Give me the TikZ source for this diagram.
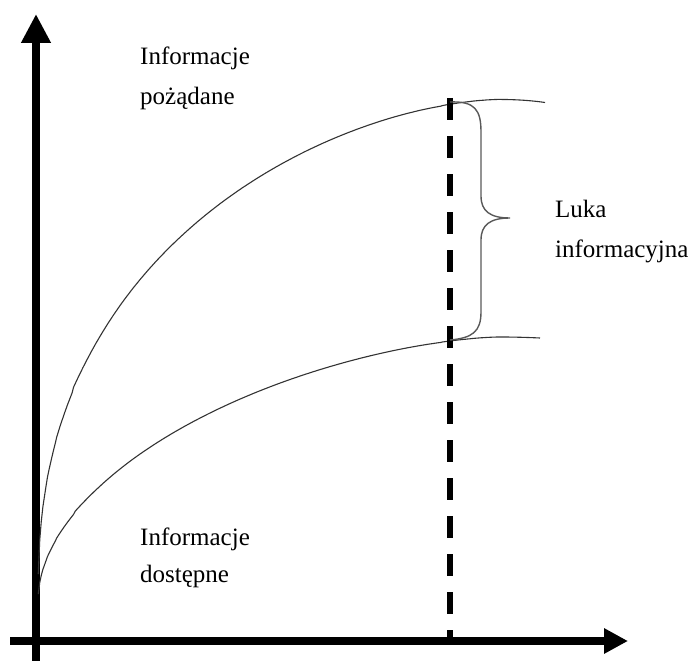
\documentclass[tikz,border=0pt]{standalone}
\usepackage{fontspec}
\setmainfont{Liberation Serif}
\usetikzlibrary{arrows.meta}
\begin{document}
\begin{tikzpicture}[x=1pt,y=-1pt,
  axis/.style={line width=8pt,draw=black},
  curve/.style={line width=1.1pt,draw=black!80},
  gapline/.style={line width=6pt,draw=black,dash pattern=on 21.5pt off 16.5pt},
  bracestyle/.style={line width=1.4pt,draw=black!65},
  lbl/.style={inner sep=0pt,anchor=base west,font=\fontsize{25}{30}\selectfont,text=black}]
\useasboundingbox (0,0) rectangle (694,661);
% axes
\coordinate (ybot) at (36,661);
\coordinate (ytop) at (36,14);
\coordinate (xleft) at (10,641);
\coordinate (xright) at (628,641);
\draw[axis,-{Triangle[length=29pt,width=28pt]}] (ybot) -- (ytop);
\draw[axis,-{Triangle[length=24pt,width=24pt]}] (xleft) -- (xright);
% curves
\coordinate (up) at (450,102);
\coordinate (lo) at (450,340);
\coordinate (upend) at (545,102.5);
\coordinate (loend) at (540,338);
\draw[curve] plot[domain=0.0005:0.999,samples=300,variable=\u]
  ({38+462*\u},{600-500.5*(1-(1-\u)^1.7)^0.42})
  .. controls (520,99.5) and (535,101) .. (upend);
\draw[curve] plot[domain=0.0005:0.999,samples=300,variable=\u]
  ({38+462*\u},{600-263*(1-(1-\u)^1.6)^0.53})
  .. controls (515,337) and (530,337.5) .. (loend);
% dashed line
\coordinate (dtop) at (450,98);
\coordinate (dbot) at (450,641);
\draw[gapline] (dtop) -- (dbot);
% brace
\coordinate (tip) at (510,218);
\draw[bracestyle] (up) .. controls (475,101) and (481,110) .. (481,132) -- (481,196)
  .. controls (481,211) and (490,218) .. (tip)
  .. controls (490,218) and (481,225) .. (481,240) -- (481,312)
  .. controls (481,332) and (472,338) .. (lo);
% labels
\node[lbl] (p1) at (140,65) {Informacje};
\node[lbl] (p2) at (140,104) {pożądane};
\node[lbl] (d1) at (140,545) {Informacje};
\node[lbl] (d2) at (140,582) {dostępne};
\node[lbl] (l1) at (555,217) {Luka};
\node[lbl] (l2) at (555,257) {informacyjna};
\end{tikzpicture}
\end{document}
